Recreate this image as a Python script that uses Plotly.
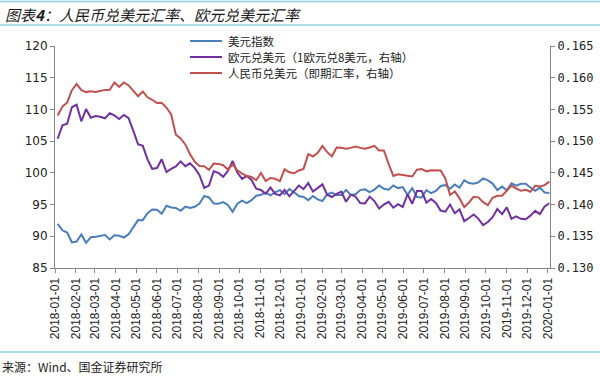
import pandas as pd
import plotly.graph_objects as go

dates = pd.date_range("2018-01-05", "2020-01-03", freq="W-FRI")

dxy = [91.96, 90.94, 90.59, 89.04, 89.17, 90.29, 88.97, 89.85, 89.94, 90.11,
       90.21, 89.50, 90.15, 90.09, 89.80, 90.33, 91.53, 92.55, 92.54, 93.64,
       94.23, 94.17, 93.56, 94.82, 94.54, 94.47, 94.02, 94.67, 94.45, 94.66,
       95.16, 96.36, 96.12, 95.15, 95.14, 95.39, 94.93, 93.85, 95.13, 95.61,
       95.22, 95.69, 96.40, 96.54, 96.90, 96.46, 96.94, 97.27, 96.65, 97.45,
       96.95, 96.34,
       96.21, 95.69, 96.36, 95.82, 95.57, 96.60, 96.90, 96.50, 96.52, 97.31,
       96.52, 96.62, 97.28, 97.40, 96.96, 97.36, 98.00, 97.49, 97.33, 98.00,
       97.60, 97.75, 96.53, 97.59, 96.20, 96.13, 97.29, 96.79, 97.15, 97.93,
       98.08, 97.50, 98.15, 97.66, 98.83, 98.40, 98.30, 98.50, 99.12, 98.81,
       98.31, 97.28, 97.83, 97.24, 98.35, 97.97, 98.28, 98.27, 97.70, 97.18,
       97.67, 96.90, 96.84]

# EUR/USD expressed as 1 EUR = 8 USD (right axis)
eur_usd_8 = [0.15038, 0.15250, 0.15275, 0.15534, 0.15575, 0.15313, 0.15506, 0.15369, 0.15395, 0.15384,
             0.15360, 0.15440, 0.15405, 0.15350, 0.15413, 0.15363, 0.15163, 0.14950, 0.14925, 0.14713,
             0.14563, 0.14575, 0.14713, 0.14513, 0.14563, 0.14600, 0.14681, 0.14606, 0.14650, 0.14575,
             0.14463, 0.14263, 0.14300, 0.14525, 0.14500, 0.14438, 0.14531, 0.14688, 0.14506, 0.14406,
             0.14450, 0.14388, 0.14250, 0.14231, 0.14169, 0.14269, 0.14169, 0.14144, 0.14231, 0.14131,
             0.14213, 0.14300,
             0.14244, 0.14338, 0.14206, 0.14263, 0.14319, 0.14156, 0.14119, 0.14169, 0.14206, 0.14044,
             0.14156, 0.14125, 0.14025, 0.14019, 0.14125, 0.14056, 0.13938, 0.14000, 0.14044, 0.13950,
             0.14006, 0.13963, 0.14163, 0.14013, 0.14213, 0.14213, 0.14031, 0.14088, 0.14025, 0.13906,
             0.13888, 0.14000, 0.13863, 0.13925, 0.13738, 0.13788, 0.13844, 0.13775, 0.13675, 0.13725,
             0.13800, 0.13931, 0.13850, 0.13956, 0.13775, 0.13813, 0.13775, 0.13769, 0.13825, 0.13900,
             0.13850, 0.13969, 0.14020]

# USD per CNY, spot (right axis)
cny_usd = [0.15405, 0.15545, 0.15608, 0.15803, 0.15903, 0.15805, 0.15773, 0.15785, 0.15775, 0.15793,
           0.15808, 0.15810, 0.15924, 0.15855, 0.15926, 0.15878, 0.15788, 0.15708, 0.15783, 0.15691,
           0.15652, 0.15601, 0.15605, 0.15530, 0.15420, 0.15101, 0.15042, 0.14948, 0.14793, 0.14674,
           0.14609, 0.14605, 0.14548, 0.14646, 0.14641, 0.14620, 0.14552, 0.14631, 0.14539, 0.14488,
           0.14453, 0.14436, 0.14384, 0.14499, 0.14372, 0.14420, 0.14407, 0.14370, 0.14556, 0.14508,
           0.14493, 0.14537,
           0.14562, 0.14795, 0.14758, 0.14817, 0.14925, 0.14826, 0.14760, 0.14901, 0.14896, 0.14881,
           0.14894, 0.14916, 0.14894, 0.14881, 0.14899, 0.14925, 0.14854, 0.14852, 0.14641, 0.14451,
           0.14478, 0.14472, 0.14455, 0.14443, 0.14550, 0.14560, 0.14524, 0.14541, 0.14541, 0.14537,
           0.14411, 0.14152, 0.14207, 0.14098, 0.13959, 0.14033, 0.14124, 0.14114, 0.14039, 0.13990,
           0.14108, 0.14138, 0.14140, 0.14213, 0.14300, 0.14253, 0.14217, 0.14233, 0.14202, 0.14296,
           0.14284, 0.14306, 0.14362]

names = ["美元指数", "欧元兑美元（1欧元兑8美元，右轴）", "人民币兑美元（即期汇率，右轴）"]
colors = ["#4A7EBB", "#7030A0", "#C0504D"]
title_text = "图表<b>4</b>：人民币兑美元汇率、欧元兑美元汇率"
source_text = "来源：Wind、国金证券研究所"

# plot-area geometry (pixels)
L, T, W, H = 55, 46, 495, 222
FW, FH = 600, 378


def px(xp):
    return (xp - L) / W


def py(yp):
    return (T + H - yp) / H


fig = go.Figure()
fig.add_trace(go.Scatter(x=dates, y=dxy, name=names[0], mode="lines",
                         line=dict(color=colors[0], width=2)))
fig.add_trace(go.Scatter(x=dates, y=eur_usd_8, name=names[1], mode="lines", yaxis="y2",
                         line=dict(color=colors[1], width=2)))
fig.add_trace(go.Scatter(x=dates, y=cny_usd, name=names[2], mode="lines", yaxis="y2",
                         line=dict(color=colors[2], width=2)))

axis_col = "#868686"
left_font = dict(family="DejaVu Sans, sans-serif", size=12, color="#222")
x_font = dict(family="Liberation Sans, Arial, sans-serif", size=12, color="#222")
right_font = dict(family="DejaVu Sans Mono, monospace", size=12, color="#222")

shapes = []
for yp in (1.5, 25, 352):
    shapes.append(dict(type="line", xref="paper", yref="paper", x0=px(0), x1=px(FW),
                       y0=py(yp), y1=py(yp), line=dict(color="#8CCFE6", width=1.5)))

annotations = [
    dict(text=title_text, xref="paper", yref="paper", x=px(3), y=py(14.5),
         xanchor="left", yanchor="middle", showarrow=False,
         font=dict(family="Noto Sans CJK SC", size=15, color="#1a1a1a", style="italic")),
    dict(text=source_text, xref="paper", yref="paper", x=px(0), y=py(366),
         xanchor="left", yanchor="middle", showarrow=False,
         font=dict(family="Noto Sans CJK SC", size=12, color="#222")),
]

# legend drawn manually to match the compact row spacing
legend_rows = [41, 57, 73]
for name, col, yp in zip(names, colors, legend_rows):
    shapes.append(dict(type="line", xref="paper", yref="paper", x0=px(190), x1=px(222),
                       y0=py(yp), y1=py(yp), line=dict(color=col, width=2)))
    annotations.append(dict(text=name, xref="paper", yref="paper", x=px(226), y=py(yp),
                            xanchor="left", yanchor="middle", showarrow=False,
                            font=dict(family="Noto Sans CJK SC", size=11.5, color="#222")))

fig.update_layout(
    width=FW, height=FH,
    margin=dict(l=L, r=FW - L - W, t=T, b=FH - T - H, autoexpand=False),
    paper_bgcolor="white", plot_bgcolor="white",
    showlegend=False,
    xaxis=dict(type="date", range=["2018-01-01", "2020-01-04"], automargin=False,
               dtick="M1", tick0="2018-01-01", tickformat="%Y-%m-%d", tickangle=-90,
               showgrid=False, showline=True, linecolor=axis_col, linewidth=1,
               ticks="outside", ticklen=4, tickcolor=axis_col, tickfont=x_font,
               zeroline=False),
    yaxis=dict(range=[85, 120], dtick=5, showgrid=False, showline=True, automargin=False,
               linecolor=axis_col, linewidth=1, ticks="outside", ticklen=4,
               tickcolor=axis_col, tickfont=left_font, zeroline=False),
    yaxis2=dict(range=[0.130, 0.165], dtick=0.005, tickformat=".3f", overlaying="y",
                side="right", showgrid=False, showline=True, linecolor=axis_col,
                linewidth=1, ticks="outside", ticklen=4, tickcolor=axis_col,
                tickfont=right_font, zeroline=False, automargin=False),
    shapes=shapes,
    annotations=annotations,
)

fig.write_html("out.html", config={"displayModeBar": False},
               post_script="document.body.style.margin='0px';")
